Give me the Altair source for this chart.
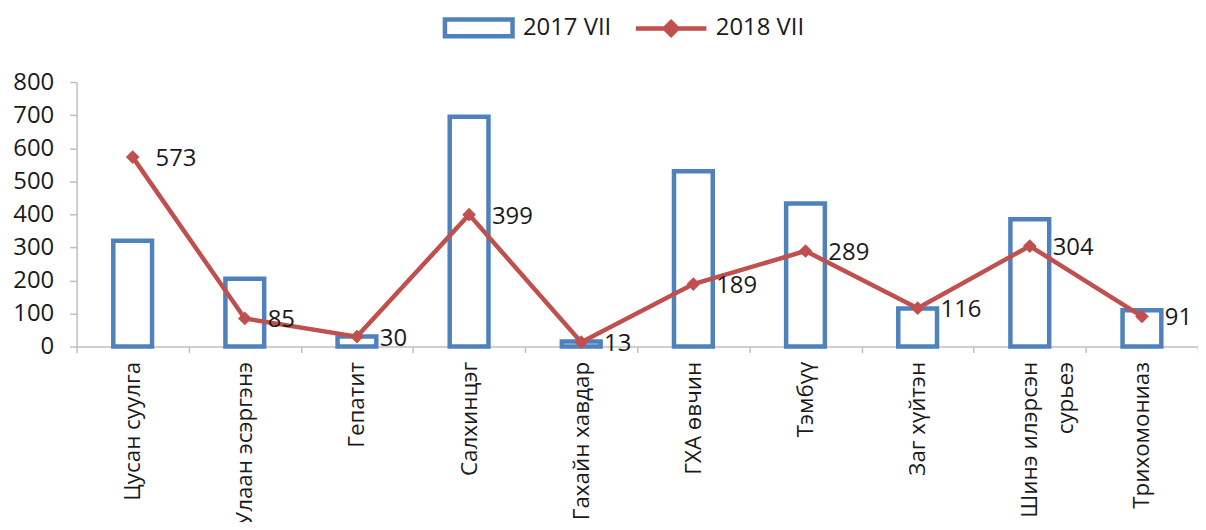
import altair as alt
import pandas as pd

categories = ["Цусан суулга", "Улаан эсэргэнэ", "Гепатит", "Салхинцэг", "Гахайн хавдар",
              "ГХА өвчин", "Тэмбүү", "Заг хүйтэн", "Шинэ илэрсэн сурьеэ", "Трихомониаз"]
v2017 = [320, 205, 30, 695, 15, 530, 433, 115, 385, 110]
v2018 = [573, 85, 30, 399, 13, 189, 289, 116, 304, 91]
series_names = ["2017 VII", "2018 VII"]
y_ticks = [0, 100, 200, 300, 400, 500, 600, 700, 800]

df = pd.DataFrame({
    "cat": categories,
    "v2017": v2017,
    "v2018": v2018,
    "s17": [series_names[0]] * len(categories),
    "s18": [series_names[1]] * len(categories),
})

FONT = "Open Sans"
FS = 24
FSX = 22.5
BLUE = "#4F81BD"
RED = "#C0504D"
GRAY = "#BFBFBF"
TXT = "#1a1a1a"

NB = "\u00a0" * 7  # centres the second wrapped line under the first

x_axis = alt.Axis(
    title=None, labelAngle=270, tickBand="extent", tickSize=6,
    labelPadding=9, labelFontSize=FSX, labelFont=FONT, labelColor=TXT,
    domainColor=GRAY, tickColor=GRAY, domainWidth=1.5, tickWidth=1.5,
    labelLineHeight=36, labelOverlap=False,
    labelExpr="datum.label == 'Шинэ илэрсэн сурьеэ' ? ['Шинэ илэрсэн', 'сурьеэ" + NB + "'] : datum.label",
)
x_scale = alt.Scale(paddingInner=0, paddingOuter=0)
y_scale = alt.Scale(domain=[0, 800], nice=False)
y_axis = alt.Axis(
    title=None, values=y_ticks, tickCount=9, tickSize=7, labelPadding=16, grid=False,
    labelFontSize=FS, labelFont=FONT, labelColor=TXT, labelOverlap=False,
    domainColor=GRAY, tickColor=GRAY, domainWidth=1.5, tickWidth=1.5,
)


def xe():
    return alt.X("cat:N", sort=categories, scale=x_scale, axis=x_axis)


def ye(field):
    return alt.Y(field, scale=y_scale, axis=y_axis)


bars = alt.Chart(df).mark_bar(size=39, fill="white", strokeWidth=4.5).encode(
    x=xe(),
    y=ye("v2017:Q"),
    stroke=alt.Stroke(
        "s17:N",
        scale=alt.Scale(domain=[series_names[0]], range=[BLUE]),
        legend=alt.Legend(
            title=None, orient="none", legendX=385, legendY=-74, padding=0,
            symbolType="M-2,-0.5H2V0.5H-2Z", symbolSize=1156, symbolStrokeWidth=4.5,
            symbolFillColor="white", labelOffset=25, labelFontSize=FS,
            labelFont=FONT, labelColor=TXT,
        ),
    ),
)

line = alt.Chart(df).mark_line(strokeWidth=4.5).encode(
    x=xe(),
    y=ye("v2018:Q"),
    stroke=alt.Stroke(
        "s18:N",
        scale=alt.Scale(domain=[series_names[1]], range=[RED]),
        legend=alt.Legend(
            title=None, orient="none", legendX=578, legendY=-74, padding=0,
            symbolType="M-2,0H2M0,-0.36L0.36,0L0,0.36L-0.36,0Z", symbolSize=1260,
            symbolStrokeWidth=4.5, symbolFillColor=RED, labelOffset=25,
            labelFontSize=FS, labelFont=FONT, labelColor=TXT,
        ),
    ),
)

points = alt.Chart(df).mark_point(shape="diamond", filled=True, size=190, opacity=1).encode(
    x=xe(),
    y=ye("v2018:Q"),
    color=alt.value(RED),
)

labels = alt.Chart(df).mark_text(
    align="left", baseline="middle", dx=23, dy=2, fontSize=FS, font=FONT, color=TXT
).encode(
    x=xe(),
    y=ye("v2018:Q"),
    text=alt.Text("v2018:Q"),
)

chart = alt.layer(bars, line, points, labels).resolve_scale(
    stroke="independent"
).properties(
    width=1128, height=266,
    autosize=alt.AutoSizeParams(type="none"),
    padding={"left": 69, "top": 73, "right": 0, "bottom": 175},
).configure_view(stroke=None)

chart.save("out.html", embed_options={"renderer": "svg", "actions": False})
